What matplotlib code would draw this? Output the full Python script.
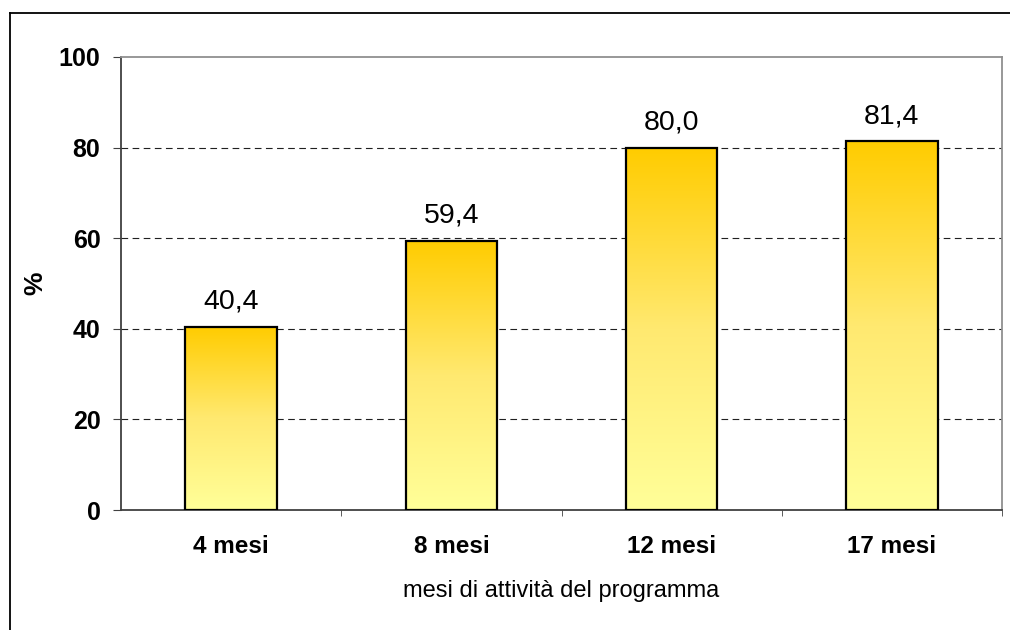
import numpy as np
import matplotlib
matplotlib.use("Agg")
import matplotlib.pyplot as plt
from matplotlib.colors import LinearSegmentedColormap
from matplotlib.lines import Line2D

plt.rcParams['font.family'] = ['Liberation Sans', 'DejaVu Sans']

categories = ["4 mesi", "8 mesi", "12 mesi", "17 mesi"]
values = [40.4, 59.4, 80.0, 81.4]
labels = ["40,4", "59,4", "80,0", "81,4"]
yticks = [0, 20, 40, 60, 80, 100]

W, H = 1010, 630
fig = plt.figure(figsize=(W / 100, H / 100), dpi=100)
fig.patch.set_facecolor("white")

# outer chart frame (top and left edges visible)
fig.add_artist(Line2D([10 / W, 10 / W], [0, 1 - 13 / H], transform=fig.transFigure,
                      color="black", lw=1.3))
fig.add_artist(Line2D([10 / W, 1], [1 - 13 / H, 1 - 13 / H], transform=fig.transFigure,
                      color="black", lw=1.3))

left, right, top, bottom = 121, 1002, 57, 510
ax = fig.add_axes([left / W, 1 - bottom / H, (right - left) / W, (bottom - top) / H])

x = np.arange(len(categories))
bars = ax.bar(x, values, width=0.415, facecolor="none", edgecolor="black",
              linewidth=1.6, zorder=3)

cmap = LinearSegmentedColormap.from_list("gold", ["#FFFF99", "#FFE970", "#FFCC00"])
grad = np.linspace(0, 1, 256).reshape(-1, 1)
for b in bars:
    x0, w, h = b.get_x(), b.get_width(), b.get_height()
    im = ax.imshow(grad, cmap=cmap, origin="lower", aspect="auto",
                   extent=[x0, x0 + w, 0, h], zorder=2)
    im.set_clip_path(b)

for xi, v, lab in zip(x, values, labels):
    ax.text(xi, v + 4.0, lab, ha="center", va="baseline", fontsize=20.5)

ax.set_xlim(-0.5, len(categories) - 0.5)
ax.set_ylim(0, 100)
ax.set_yticks(yticks)
ax.set_yticklabels([str(t) for t in yticks], fontsize=18, fontweight="bold")
ax.set_xticks(x)
ax.set_xticklabels(categories, fontsize=17.5, fontweight="bold")
ax.tick_params(axis="x", length=0, pad=18)
ax.set_xticks(np.arange(len(categories)) + 0.5, minor=True)
ax.tick_params(axis="x", which="minor", length=4.5, direction="out", color="#404040")
ax.tick_params(axis="y", length=5.8, direction="out", color="#404040", pad=9)

for yv in yticks[1:-1]:
    ax.axhline(yv, color="#202020", lw=0.8, ls=(0, (6, 4)), zorder=1)

for s in ["left", "bottom"]:
    ax.spines[s].set_color("#404040")
    ax.spines[s].set_linewidth(1.3)
for s in ["top", "right"]:
    ax.spines[s].set_color("#909090")
    ax.spines[s].set_linewidth(1.3)

ax.set_ylabel("%", fontsize=19, fontweight="bold")
ax.yaxis.set_label_coords(-0.084, 0.5)
ax.set_xlabel("mesi di attività del programma", fontsize=17)
ax.xaxis.set_label_coords(0.5, -0.155)

fig.savefig("out.png", dpi=100, facecolor="white")
